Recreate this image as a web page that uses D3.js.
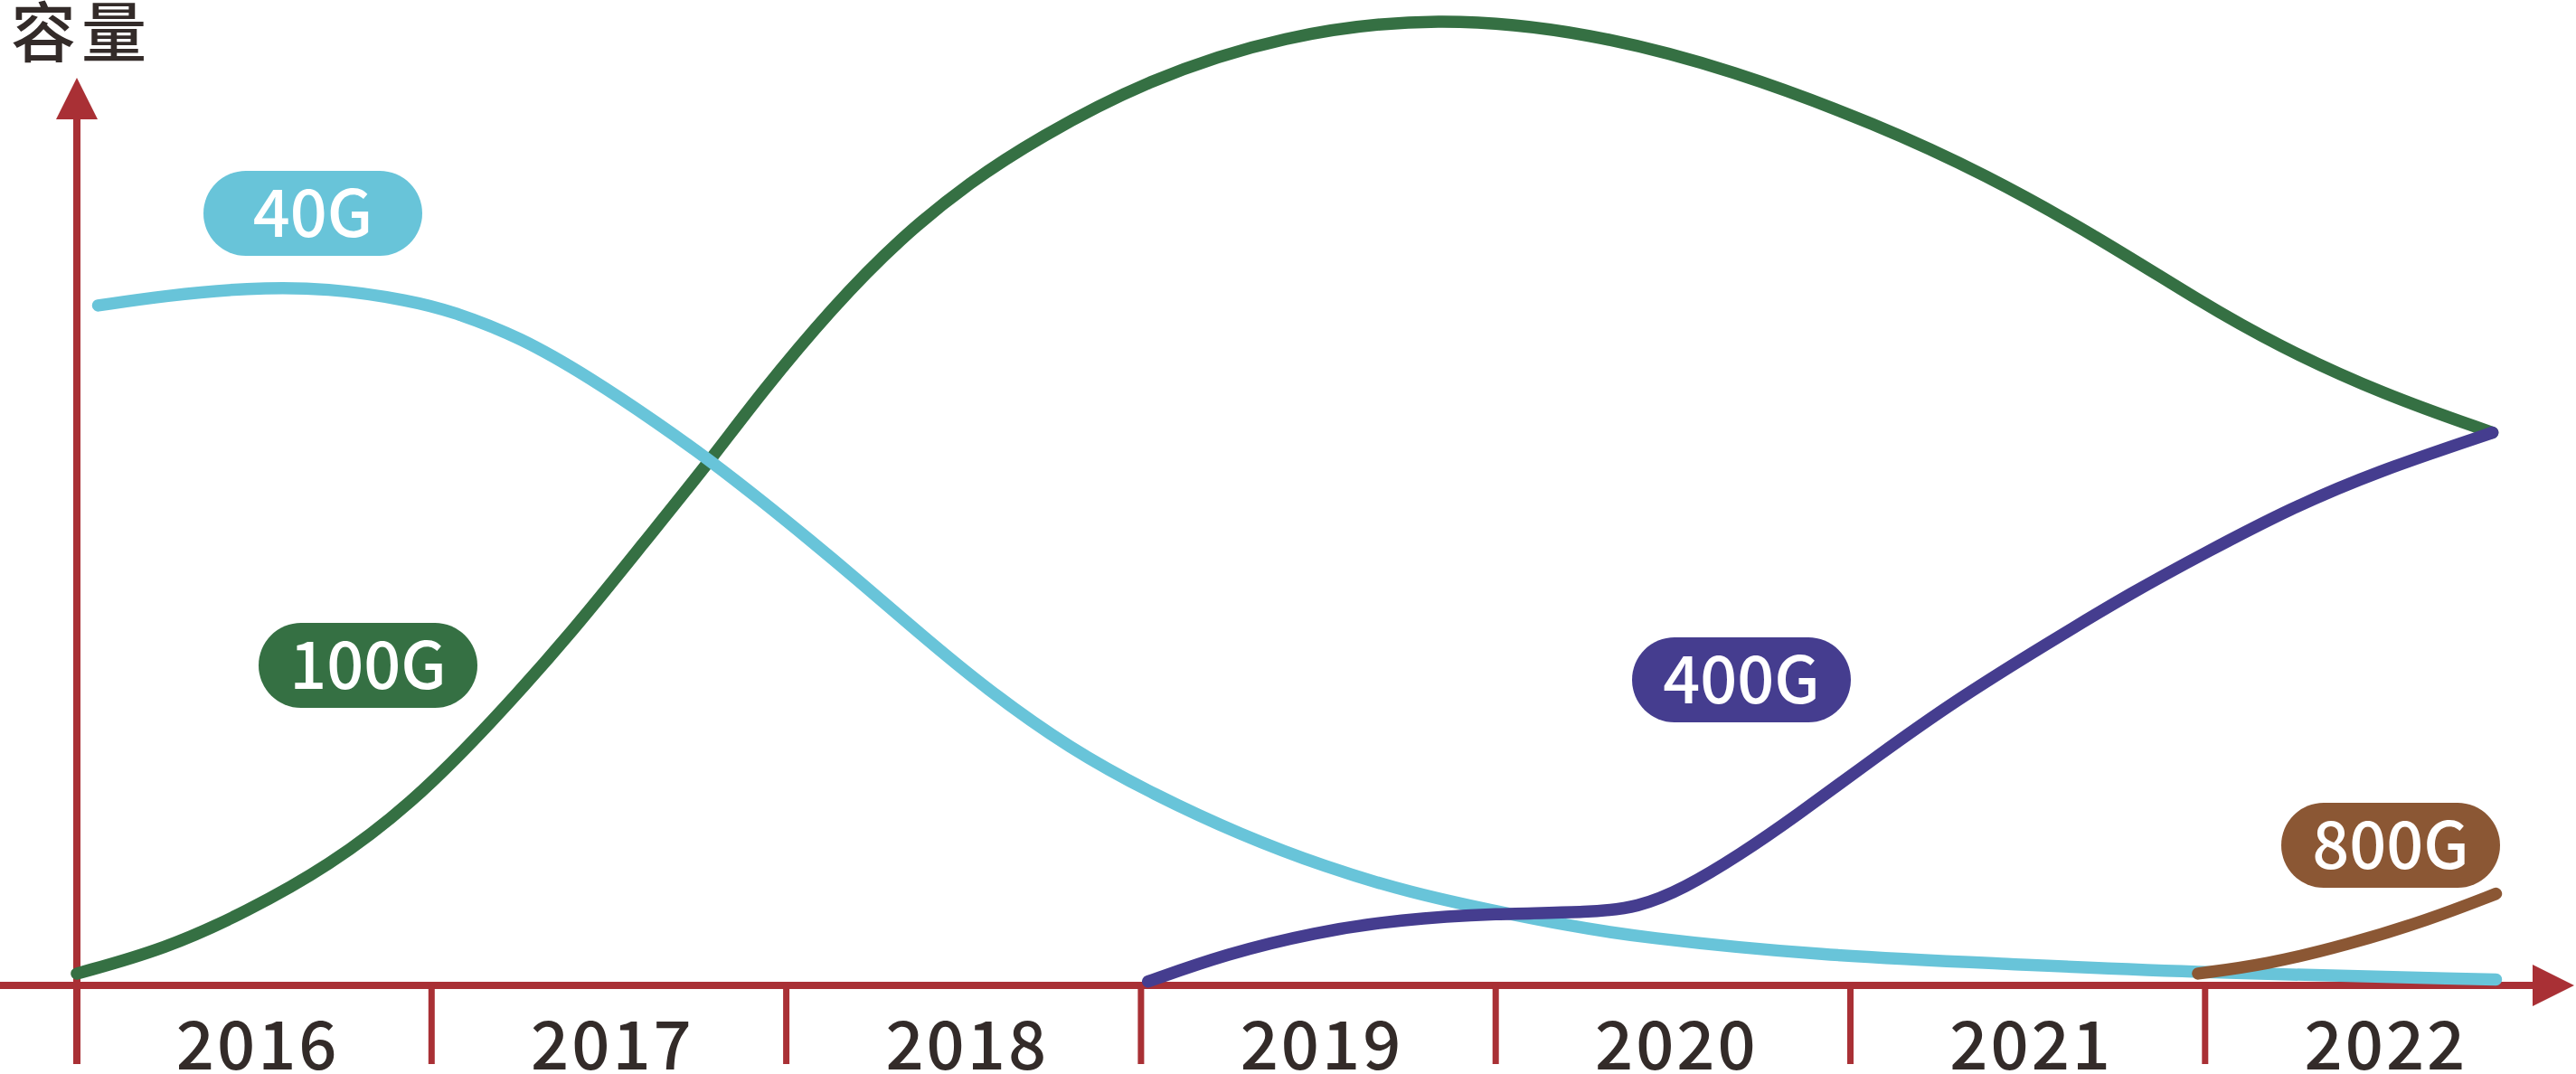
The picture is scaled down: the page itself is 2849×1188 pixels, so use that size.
<!DOCTYPE html>
<html>
<head>
<meta charset="utf-8">
<script src="https://cdn.jsdelivr.net/npm/d3@7"></script>
<style>
  html, body { margin: 0; padding: 0; background: #ffffff; }
  svg { display: block; }
</style>
</head>
<body>
<svg id="chart" width="2849" height="1188"></svg>
<script>
// ---------- data ----------
const yearLabels = ["2016", "2017", "2018", "2019", "2020", "2021", "2022"];
const yAxisTitle = "容量";
const seriesNames = ["40G", "100G", "400G", "800G"];

// [year, relative capacity]
const series40G = [
  [2016.06, 69.0], [2016.25, 70.0], [2016.48, 70.8], [2016.71, 70.8], [2016.94, 69.5],
  [2017.06, 68.4], [2017.25, 65.8], [2017.45, 61.6], [2017.64, 57.0], [2017.78, 53.4],
  [2017.93, 49.2], [2018.07, 45.1], [2018.19, 41.5], [2018.38, 35.6], [2018.56, 30.2],
  [2018.80, 24.0], [2019.04, 19.3], [2019.28, 15.3], [2019.52, 12.0], [2019.76, 9.4],
  [2019.99, 7.6], [2020.20, 6.1], [2020.40, 4.9], [2020.92, 3.0], [2021.44, 2.2],
  [2021.97, 1.3], [2022.82, 0.6]
];
const series100G = [
  [2016.00, 1.2], [2016.25, 3.7], [2016.48, 7.5], [2016.71, 12.1], [2016.94, 18.3],
  [2017.17, 26.7], [2017.40, 36.0], [2017.60, 45.0], [2017.78, 53.0], [2017.93, 60.2],
  [2018.13, 68.8], [2018.32, 75.8], [2018.52, 81.6], [2018.71, 86.0], [2019.01, 91.8],
  [2019.40, 96.5], [2019.84, 98.4], [2020.27, 96.7], [2020.67, 92.9], [2021.08, 87.3],
  [2021.38, 82.3], [2021.69, 76.1], [2021.99, 69.3], [2022.20, 65.0], [2022.50, 60.0],
  [2022.81, 56.1]
];
const series400G = [
  [2019.02, 0.4], [2019.24, 3.2], [2019.49, 5.4], [2019.73, 6.7], [2020.00, 7.3],
  [2020.27, 7.4], [2020.40, 7.9], [2020.53, 9.8], [2020.69, 13.3], [2020.84, 17.0],
  [2021.08, 23.4], [2021.30, 29.0], [2021.55, 34.6], [2021.80, 40.0], [2022.00, 43.9],
  [2022.24, 48.4], [2022.48, 52.1], [2022.81, 56.1]
];
const series800G = [
  [2021.98, 1.2], [2022.17, 2.1], [2022.40, 4.1], [2022.63, 6.65], [2022.82, 9.3]
];

// ---------- layout / style ----------
const colors = { "40G": "#68C4D9", "100G": "#357043", "400G": "#453D8F", "800G": "#8B5734" };
const axisColor = "#A93035";
const textColor = "#332B29";
const fontFamily = "'Noto Sans CJK SC', 'Noto Sans', sans-serif";

const originX = 85, axisY = 1090;
const x = d3.scaleLinear().domain([2016, 2023]).range([originX, originX + 7 * 392.3]);
const y = d3.scaleLinear().domain([0, 100]).range([axisY, 0]);

const svg = d3.select("#chart");

// ---------- axes ----------
const axisG = svg.append("g");
axisG.append("line")
  .attr("x1", 0).attr("x2", 2810).attr("y1", axisY).attr("y2", axisY)
  .attr("stroke", axisColor).attr("stroke-width", 8);
axisG.append("path")
  .attr("d", `M2847,${axisY} L2801,${axisY - 23} L2801,${axisY + 23} Z`)
  .attr("fill", axisColor);
axisG.append("line")
  .attr("x1", originX).attr("x2", originX).attr("y1", 1177).attr("y2", 120)
  .attr("stroke", axisColor).attr("stroke-width", 8);
axisG.append("path")
  .attr("d", `M${originX},86 L${originX - 23},132 L${originX + 23},132 Z`)
  .attr("fill", axisColor);

const tickYears = d3.range(2017, 2023);
axisG.selectAll("line.tick").data(tickYears).enter().append("line")
  .attr("class", "tick")
  .attr("x1", d => x(d)).attr("x2", d => x(d))
  .attr("y1", axisY).attr("y2", 1177)
  .attr("stroke", axisColor).attr("stroke-width", 7);

axisG.selectAll("text.year").data(yearLabels).enter().append("text")
  .attr("class", "year")
  .attr("x", (d, i) => x(2016 + i + 0.5) + 4)
  .attr("y", 1183)
  .attr("text-anchor", "middle")
  .attr("font-family", fontFamily)
  .attr("font-size", 74)
  .attr("font-weight", 500)
  .attr("letter-spacing", 3)
  .attr("fill", textColor)
  .text(d => d);

svg.append("text")
  .attr("x", 12).attr("y", 62)
  .attr("font-family", fontFamily)
  .attr("font-size", 72)
  .attr("font-weight", 500)
  .attr("letter-spacing", 6)
  .attr("fill", textColor)
  .text(yAxisTitle);

// ---------- lines ----------
const line = d3.line()
  .x(d => x(d[0]))
  .y(d => y(d[1]))
  .curve(d3.curveBasis);

const drawOrder = [["100G", series100G], ["40G", series40G], ["400G", series400G], ["800G", series800G]];
svg.append("g").selectAll("path").data(drawOrder).enter().append("path")
  .attr("d", d => line(d[1]))
  .attr("fill", "none")
  .attr("stroke", d => colors[d[0]])
  .attr("stroke-width", 13.5)
  .attr("stroke-linecap", "round")
  .attr("stroke-linejoin", "round");

// ---------- pill labels ----------
const pillPos = { "40G": [346, 236], "100G": [407, 736], "400G": [1926, 752], "800G": [2644, 935] };
const pillW = 242, pillH = 94;
const pills = svg.append("g").selectAll("g").data(seriesNames).enter().append("g")
  .attr("transform", d => `translate(${pillPos[d][0]},${pillPos[d][1]})`);
pills.append("rect")
  .attr("x", -pillW / 2).attr("y", -pillH / 2)
  .attr("width", pillW).attr("height", pillH)
  .attr("rx", pillH / 2).attr("ry", pillH / 2)
  .attr("fill", d => colors[d]);
pills.append("text")
  .attr("x", 0).attr("y", 26)
  .attr("text-anchor", "middle")
  .attr("font-family", fontFamily)
  .attr("font-size", 72)
  .attr("font-weight", 500)
  .attr("fill", "#ffffff")
  .text(d => d);
</script>
</body>
</html>
